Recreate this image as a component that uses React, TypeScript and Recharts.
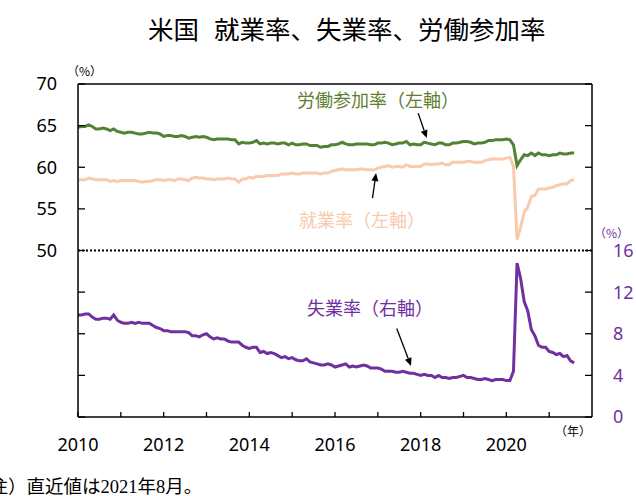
import React from 'react';
import { ComposedChart, Line, XAxis, YAxis, ReferenceLine } from 'recharts';

// monthly, Jan 2010 .. Aug 2021
const participation = [
  64.8, 64.9, 64.9, 65.1, 64.9, 64.6, 64.6, 64.7, 64.6, 64.4, 64.6, 64.3,
  64.2, 64.1, 64.2, 64.2, 64.1, 64.0, 64.0, 64.1, 64.2, 64.1, 64.1, 64.0,
  63.7, 63.8, 63.8, 63.7, 63.7, 63.8, 63.7, 63.5, 63.6, 63.7, 63.6, 63.7,
  63.6, 63.4, 63.3, 63.4, 63.4, 63.4, 63.4, 63.3, 63.3, 62.8, 63.0, 62.9,
  62.9, 63.0, 63.2, 62.8, 62.9, 62.8, 62.9, 62.9, 62.8, 62.9, 62.9, 62.7,
  62.9, 62.7, 62.7, 62.8, 62.8, 62.6, 62.6, 62.6, 62.4, 62.5, 62.5, 62.7,
  62.7, 62.8, 63.0, 62.8, 62.7, 62.7, 62.8, 62.8, 62.8, 62.8, 62.7, 62.7,
  62.9, 62.9, 63.0, 62.9, 62.7, 62.8, 62.9, 62.9, 63.1, 62.7, 62.8, 62.7,
  62.7, 63.0, 62.9, 62.8, 62.7, 62.9, 62.9, 62.7, 62.7, 62.9, 62.9, 63.0,
  63.1, 63.1, 63.0, 62.8, 62.9, 62.9, 63.0, 63.2, 63.2, 63.3, 63.3, 63.3,
  63.4, 63.3, 62.7, 60.2, 60.9, 61.5, 61.4, 61.7, 61.4, 61.7, 61.5, 61.5,
  61.4, 61.5, 61.5, 61.7, 61.6, 61.6, 61.7, 61.7,
];

const employment = [
  58.5, 58.5, 58.5, 58.7, 58.6, 58.5, 58.5, 58.5, 58.5, 58.3, 58.4, 58.3,
  58.4, 58.4, 58.4, 58.4, 58.4, 58.3, 58.2, 58.3, 58.3, 58.4, 58.5, 58.5,
  58.4, 58.5, 58.5, 58.4, 58.6, 58.6, 58.5, 58.4, 58.7, 58.8, 58.7, 58.7,
  58.6, 58.6, 58.5, 58.6, 58.6, 58.6, 58.7, 58.6, 58.6, 58.2, 58.6, 58.6,
  58.8, 58.7, 58.9, 58.9, 58.9, 59.0, 59.0, 59.0, 59.0, 59.2, 59.2, 59.2,
  59.3, 59.2, 59.2, 59.3, 59.3, 59.3, 59.3, 59.3, 59.2, 59.3, 59.3, 59.5,
  59.6, 59.7, 59.8, 59.7, 59.7, 59.7, 59.7, 59.8, 59.8, 59.7, 59.7, 59.7,
  59.9, 60.0, 60.1, 60.2, 60.0, 60.1, 60.1, 60.0, 60.3, 60.1, 60.1, 60.1,
  60.1, 60.4, 60.4, 60.3, 60.4, 60.4, 60.5, 60.3, 60.3, 60.6, 60.6, 60.6,
  60.6, 60.7, 60.7, 60.6, 60.6, 60.6, 60.8, 60.9, 61.0, 61.0, 61.0, 61.0,
  61.1, 61.2, 60.1, 51.3, 52.8, 54.6, 55.2, 56.5, 56.6, 57.4, 57.4, 57.4,
  57.5, 57.6, 57.8, 57.9, 58.0, 58.0, 58.4, 58.5,
];

const unemployment = [
  9.8, 9.8, 9.9, 9.9, 9.6, 9.4, 9.4, 9.5, 9.5, 9.4, 9.8, 9.3,
  9.1, 9.0, 9.0, 9.1, 9.0, 9.1, 9.0, 9.0, 9.0, 8.8, 8.6, 8.5,
  8.3, 8.3, 8.2, 8.2, 8.2, 8.2, 8.2, 8.1, 7.8, 7.8, 7.7, 7.9,
  8.0, 7.7, 7.5, 7.6, 7.5, 7.5, 7.3, 7.2, 7.2, 7.2, 6.9, 6.7,
  6.6, 6.7, 6.7, 6.2, 6.3, 6.1, 6.2, 6.1, 5.9, 5.7, 5.8, 5.6,
  5.7, 5.5, 5.4, 5.4, 5.6, 5.3, 5.2, 5.1, 5.0, 5.0, 5.1, 5.0,
  4.8, 4.9, 5.0, 5.1, 4.8, 4.9, 4.8, 4.9, 5.0, 4.9, 4.7, 4.7,
  4.7, 4.6, 4.4, 4.4, 4.4, 4.3, 4.3, 4.4, 4.3, 4.2, 4.2, 4.1,
  4.0, 4.1, 4.0, 4.0, 3.8, 4.0, 3.8, 3.8, 3.7, 3.8, 3.8, 3.9,
  4.0, 3.8, 3.8, 3.7, 3.6, 3.6, 3.7, 3.6, 3.5, 3.6, 3.6, 3.6,
  3.5, 3.5, 4.4, 14.8, 13.3, 11.1, 10.2, 8.4, 7.8, 6.9, 6.7, 6.7,
  6.3, 6.2, 6.0, 6.1, 5.8, 5.9, 5.4, 5.2,
];

const startYear = 2010;
const yearLabels = [2010, 2012, 2014, 2016, 2018, 2020];
const leftTicks = [30, 35, 40, 45, 50, 55, 60, 65, 70];
const rightTicks = [0, 4, 8, 12, 16, 20, 24, 28, 32];
const monthTicks = [0, 12, 24, 36, 48, 60, 72, 84, 96, 108, 120, 132];

const data = participation.map((v, i) => ({
  m: i,
  lfpr: v,
  epop: employment[i],
  ur: unemployment[i],
}));

// annotation arrows, in data coordinates (month index, axis value)
const lfprArrow = [{ x: 95.3, y: 66.5 }, { x: 97.7, y: 63.5 }];
const epopArrow = [{ x: 82.5, y: 56.3 }, { x: 83.5, y: 59.3 }];
const urArrow = [{ x: 89.3, y: 8.5 }, { x: 93.3, y: 4.9 }];

const GREEN = '#548235';
const GREEN_TEXT = '#5E7E30';
const PEACH = '#F8CBAD';
const PURPLE = '#7030A0';
const NUM_FONT = "'Noto Sans', 'Open Sans', sans-serif";
const JP_FONT = "'Noto Sans CJK JP', 'Noto Sans', sans-serif";

const LEFT_GAP = 21;
const RIGHT_GAP = 21;
const BOTTOM_GAP = 28;

const LeftTick = (props: any) => {
  const { x, y, payload } = props;
  const ax = x + LEFT_GAP;
  return (
    <g>
      <line x1={ax} x2={ax + 7} y1={y} y2={y} stroke="#000" strokeWidth={1.3} />
      {payload.value >= 50 && (
        <text x={x} y={y} dy="0.36em" textAnchor="end" fontSize={18} fill="#000" fontFamily={NUM_FONT}>
          {payload.value}
        </text>
      )}
    </g>
  );
};

const RightTick = (props: any) => {
  const { x, y, payload } = props;
  const ax = x - RIGHT_GAP;
  return (
    <g>
      <line x1={ax - 7} x2={ax} y1={y} y2={y} stroke="#000" strokeWidth={1.3} />
      {payload.value <= 16 && (
        <text x={x} y={y} dy="0.36em" textAnchor="start" fontSize={18} fill={PURPLE} fontFamily={NUM_FONT}>
          {payload.value}
        </text>
      )}
    </g>
  );
};

const BottomTick = (props: any) => {
  const { x, y, payload } = props;
  const ay = y - BOTTOM_GAP;
  const year = startYear + payload.value / 12;
  return (
    <g>
      <line x1={x} x2={x} y1={ay - 5} y2={ay} stroke="#000" strokeWidth={1.3} />
      {yearLabels.includes(year) && (
        <text x={x} y={y} dy="0.36em" textAnchor="middle" fontSize={18} fill="#000" fontFamily={NUM_FONT}>
          {year}
        </text>
      )}
    </g>
  );
};

const arrowShape = (props: any) => {
  const { x1, y1, x2, y2 } = props;
  const ang = Math.atan2(y2 - y1, x2 - x1);
  const L = 8;
  const W = 3.5;
  const bx = x2 - L * Math.cos(ang);
  const by = y2 - L * Math.sin(ang);
  const p1 = [bx + W * Math.sin(ang), by - W * Math.cos(ang)];
  const p2 = [bx - W * Math.sin(ang), by + W * Math.cos(ang)];
  return (
    <g>
      <line x1={x1} y1={y1} x2={bx} y2={by} stroke="#000" strokeWidth={1.3} />
      <polygon points={`${x2},${y2} ${p1} ${p2}`} fill="#000" />
    </g>
  );
};

const abs = (left: number, top: number, fontSize: number, color: string, extra: React.CSSProperties = {}): React.CSSProperties => ({
  position: 'absolute',
  left,
  top,
  fontSize,
  lineHeight: `${fontSize}px`,
  color,
  fontFamily: JP_FONT,
  whiteSpace: 'nowrap',
  ...extra,
});

export default function App() {
  return (
    <div style={{ position: 'absolute', left: 0, top: 0, width: 636, height: 496, background: '#fff', overflow: 'hidden' }}>
      <ComposedChart
        width={636}
        height={496}
        data={data}
        margin={{ top: 84, right: 0, left: 0, bottom: 39 }}
      >
        <XAxis
          dataKey="m"
          type="number"
          domain={[0, 144]}
          ticks={monthTicks}
          interval={0}
          height={40}
          tickSize={0}
          tickMargin={BOTTOM_GAP}
          tickLine={false}
          tick={BottomTick}
          axisLine={{ stroke: '#000', strokeWidth: 1.5 }}
        />
        <YAxis
          yAxisId="left"
          orientation="left"
          domain={[30, 70]}
          ticks={leftTicks}
          interval={0}
          width={78}
          tickSize={0}
          tickMargin={LEFT_GAP}
          tickLine={false}
          tick={LeftTick}
          axisLine={{ stroke: '#000', strokeWidth: 1.5 }}
        />
        <YAxis
          yAxisId="right"
          orientation="right"
          domain={[0, 32]}
          ticks={rightTicks}
          interval={0}
          width={44}
          tickSize={0}
          tickMargin={RIGHT_GAP}
          tickLine={false}
          tick={RightTick}
          axisLine={{ stroke: '#000', strokeWidth: 1.5 }}
        />
        <ReferenceLine yAxisId="left" y={70} stroke="#000" strokeWidth={1.5} />
        <ReferenceLine yAxisId="left" y={50} stroke="#000" strokeWidth={2} strokeDasharray="2 2" />

        <Line yAxisId="left" type="linear" dataKey="lfpr" stroke={GREEN} strokeWidth={3} dot={false} isAnimationActive={false} />
        <Line yAxisId="left" type="linear" dataKey="epop" stroke={PEACH} strokeWidth={3} dot={false} isAnimationActive={false} />
        <Line yAxisId="right" type="linear" dataKey="ur" stroke={PURPLE} strokeWidth={3} dot={false} isAnimationActive={false} />

        <ReferenceLine yAxisId="left" segment={lfprArrow} shape={arrowShape} />
        <ReferenceLine yAxisId="left" segment={epopArrow} shape={arrowShape} />
        <ReferenceLine yAxisId="right" segment={urArrow} shape={arrowShape} />
      </ComposedChart>

      <div style={abs(148, 15, 25.5, '#000')}>
        米国<span style={{ marginLeft: 15 }}>就業率、失業率、労働参加率</span>
      </div>
      <div style={abs(67, 65, 12, '#000')}>（%）</div>
      <div style={abs(594, 227, 12, PURPLE)}>（%）</div>
      <div style={abs(555, 425, 12, '#000')}>（年）</div>

      <div style={abs(297, 90, 18, GREEN_TEXT)}>労働参加率（左軸）</div>
      <div style={abs(299, 210, 18, PEACH)}>就業率（左軸）</div>
      <div style={abs(307, 298, 18, PURPLE)}>失業率（右軸）</div>

      <div style={abs(-29, 478, 18.5, '#000', { fontFamily: "'Liberation Serif', 'Noto Sans CJK JP', serif" })}>
        （注）直近値は2021年8月。
      </div>
    </div>
  );
}
